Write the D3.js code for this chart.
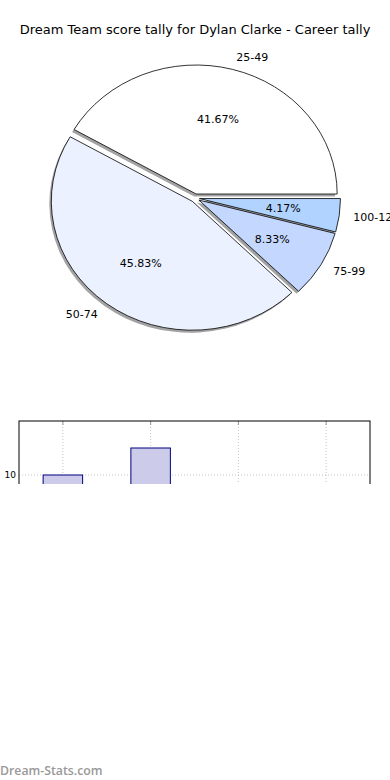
<!DOCTYPE html>
<html>
<head>
<meta charset="utf-8">
<script src="https://cdn.jsdelivr.net/npm/d3@7"></script>
<style>
  body { margin: 0; background: #fff; }
  svg { display: block; font-family: 'DejaVu Sans', sans-serif; }
</style>
</head>
<body>
<div id="chart"></div>
<script>
// datos
categorias = ['25-49', '50-74', '75-99', '100-124']
tallies    = [10, 11, 2, 1]
colores    = ['#ffffff', '#ebf1ff', '#c4d8ff', '#b1d3ff']
yTicks     = [0, 5, 10]

ancho = 390
alto  = 780

svg = d3.select('#chart')
  .append('svg')
  .attr('width', ancho)
  .attr('height', alto)

// titulo
svg.append('text')
  .attr('x', 195)
  .attr('y', 34)
  .attr('text-anchor', 'middle')
  .attr('font-size', 13)
  .text('Dream Team score tally for Dylan Clarke - Career tally')

// Pie (eliptico, como matplotlib sin aspect igual)
cx = 195, cy = 198
rx = 141, ry = 129
explode = 0.032

total = d3.sum(tallies)
pie = d3.pie().sort(null)
  .startAngle(Math.PI / 2)
  .endAngle(Math.PI / 2 - 2 * Math.PI)
arcos = pie(tallies)
arc = d3.arc().innerRadius(0).outerRadius(1)

// angulo matplotlib (ccw desde el este) a partir del arco d3
mid = d => Math.PI / 2 - (d.startAngle + d.endAngle) / 2

gPie = svg.append('g')

centro = d => {
  a = mid(d)
  return [cx + explode * rx * Math.cos(a), cy - explode * ry * Math.sin(a)]
}

// sombras
gPie.selectAll('.sombra')
  .data(arcos)
  .enter()
  .append('path')
    .attr('class', 'sombra')
    .attr('d', arc)
    .attr('fill', '#a3a3a3')
    .attr('transform', d => {
      c = centro(d)
      return `translate(${c[0] - 2}, ${c[1] + 2.5}) scale(${rx}, ${ry})`
    })

// porciones
gPie.selectAll('.part')
  .data(arcos)
  .enter()
  .append('path')
    .attr('class', 'part')
    .attr('d', arc)
    .attr('fill', (d, i) => colores[i])
    .attr('stroke', '#000')
    .attr('stroke-width', 0.8)
    .attr('stroke-linejoin', 'round')
    .attr('vector-effect', 'non-scaling-stroke')
    .attr('transform', d => {
      c = centro(d)
      return `translate(${c[0]}, ${c[1]}) scale(${rx}, ${ry})`
    })

// porcentajes
gPie.selectAll('.pct')
  .data(arcos)
  .enter()
  .append('text')
    .attr('class', 'pct')
    .attr('x', d => centro(d)[0] + 0.6 * rx * Math.cos(mid(d)))
    .attr('y', d => centro(d)[1] - 0.6 * ry * Math.sin(mid(d)))
    .attr('dy', '0.35em')
    .attr('text-anchor', 'middle')
    .attr('font-size', 11)
    .text(d => (d.value / total * 100).toFixed(2) + '%')

// etiquetas
gPie.selectAll('.lab')
  .data(arcos)
  .enter()
  .append('text')
    .attr('class', 'lab')
    .attr('x', d => centro(d)[0] + 1.1 * rx * Math.cos(mid(d)))
    .attr('y', d => centro(d)[1] - 1.1 * ry * Math.sin(mid(d)))
    .attr('dy', '0.35em')
    .attr('text-anchor', d => Math.cos(mid(d)) > 0 ? 'start' : 'end')
    .attr('font-size', 11)
    .text((d, i) => categorias[i])

// Grafica de barras (recortada abajo como en la imagen)
margen = { left: 19, right: 20, top: 421 }
anchoBar = ancho - margen.left - margen.right

svg.append('clipPath')
  .attr('id', 'recorte')
  .append('rect')
    .attr('x', 0).attr('y', 0)
    .attr('width', ancho).attr('height', 484)

gBar = svg.append('g').attr('clip-path', 'url(#recorte)')

xBar = d3.scaleBand().domain(categorias).range([margen.left, margen.left + anchoBar])
yBar = d3.scaleLinear().domain([0, 12]).range([margen.top + 12 * 27, margen.top])

// rejilla
gBar.selectAll('.vgrid')
  .data(categorias)
  .enter()
  .append('line')
    .attr('x1', d => xBar(d) + xBar.bandwidth() / 2)
    .attr('x2', d => xBar(d) + xBar.bandwidth() / 2)
    .attr('y1', margen.top)
    .attr('y2', yBar(0))
    .attr('stroke', '#c4c4c4')
    .attr('stroke-dasharray', '1,2')

gBar.selectAll('.hgrid')
  .data(yTicks)
  .enter()
  .append('line')
    .attr('x1', margen.left)
    .attr('x2', margen.left + anchoBar)
    .attr('y1', d => yBar(d))
    .attr('y2', d => yBar(d))
    .attr('stroke', '#c4c4c4')
    .attr('stroke-dasharray', '1,2')

// barras
gBar.selectAll('rect.bar')
  .data(tallies)
  .enter()
  .append('rect')
    .attr('class', 'bar')
    .attr('x', (d, i) => xBar(categorias[i]) + xBar.bandwidth() * 0.275)
    .attr('width', xBar.bandwidth() * 0.45)
    .attr('y', d => yBar(d))
    .attr('height', d => yBar(0) - yBar(d))
    .attr('fill', '#ccccea')
    .attr('stroke', '#000080')
    .attr('stroke-width', 1)

// marcas superiores
gBar.selectAll('.tickTop')
  .data(categorias)
  .enter()
  .append('line')
    .attr('x1', d => xBar(d) + xBar.bandwidth() / 2)
    .attr('x2', d => xBar(d) + xBar.bandwidth() / 2)
    .attr('y1', margen.top)
    .attr('y2', margen.top + 4)
    .attr('stroke', '#999')

// marco
gBar.append('rect')
  .attr('x', margen.left)
  .attr('y', margen.top)
  .attr('width', anchoBar)
  .attr('height', yBar(0) - margen.top)
  .attr('fill', 'none')
  .attr('stroke', '#000')
  .attr('stroke-width', 1)

// etiquetas eje y
gBar.selectAll('.ytick')
  .data(yTicks)
  .enter()
  .append('text')
    .attr('x', margen.left - 3)
    .attr('y', d => yBar(d))
    .attr('dy', '0.35em')
    .attr('text-anchor', 'end')
    .attr('font-size', 9)
    .text(d => d)

// marca de agua
svg.append('text')
  .attr('x', 0)
  .attr('y', 775)
  .attr('font-family', "'Open Sans', sans-serif")
  .attr('font-weight', 600)
  .attr('font-size', 12.3)
  .attr('fill', '#999')
  .text('Dream-Stats.com')
</script>
</body>
</html>
